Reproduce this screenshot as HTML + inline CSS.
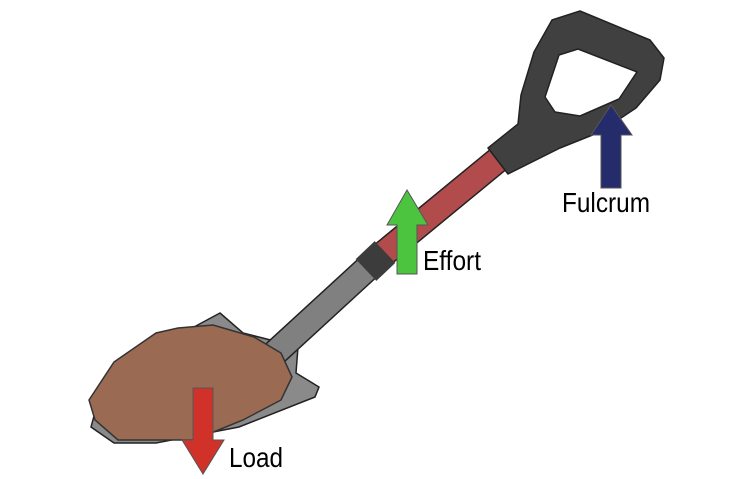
<!DOCTYPE html>
<html><head><style>
html,body{margin:0;padding:0;background:#fff;}
svg{display:block;}
text{font-family:"Liberation Sans",sans-serif;font-size:28px;fill:#000;}
</style></head><body>
<svg width="750" height="479" viewBox="0 0 750 479" xmlns="http://www.w3.org/2000/svg">
<!-- blade -->
<path d="M220,313 L243,333 L298,347 L296,373 L319,387 L315,397 L239,427 L156,443 L114,443 L91,427 L103,383 L125,360 L194,327 Z" fill="#8a8a8a" stroke="#222" stroke-width="1.5"/>
<!-- gray shaft -->
<line x1="374" y1="262" x2="276" y2="352" stroke="#222" stroke-width="27" stroke-linecap="round"/>
<line x1="374" y1="262" x2="276" y2="352" stroke="#808080" stroke-width="24" stroke-linecap="round"/>
<!-- red shaft -->
<line x1="500" y1="158" x2="376" y2="260" stroke="#222" stroke-width="27"/>
<line x1="500" y1="158" x2="376" y2="260" stroke="#b24b4b" stroke-width="24"/>
<!-- dark collar -->
<line x1="385" y1="252" x2="366" y2="270" stroke="#3c3c3c" stroke-width="30"/>
<!-- grip -->
<path d="M508,174 L488,148 L518,124 L521,95 L534,52 L552,20 L580,11 L650,40 L664,58 L660,80 L636,108 L600,132 L560,148 Z" fill="#404040" stroke="#222" stroke-width="1.5" stroke-linejoin="round"/>
<path d="M578,49 L637,72 L619,99 L580,116 L555,112 L545,97 L559,55 Z" fill="#fff" stroke="#222" stroke-width="1.5" stroke-linejoin="round"/>
<!-- dirt -->
<path d="M89,400 L114,362 L156,333 L178,328 L213,325 L254,337 L281,353 L292,377 L281,400 L243,420 L194,440 L118,440 L95,420 Z" fill="#9b6a52" stroke="#333" stroke-width="1.5"/>
<!-- load arrow -->
<path d="M193,388 H213 V440 H224 L203,474 L182,440 H193 Z" fill="#d0322a" stroke="#555" stroke-width="1"/>
<!-- effort arrow -->
<path d="M397,274 H417 V225 H428 L407,190 L387,225 H397 Z" fill="#4cc43f" stroke="#555" stroke-width="1"/>
<!-- fulcrum arrow -->
<path d="M601,188 H621 V135 H632 L611,105 L591,135 H601 Z" fill="#252c6b" stroke="#555" stroke-width="1"/>
<text x="423" y="270" textLength="58" lengthAdjust="spacingAndGlyphs">Effort</text>
<text x="562" y="212" textLength="88" lengthAdjust="spacingAndGlyphs">Fulcrum</text>
<text x="229" y="467" textLength="54" lengthAdjust="spacingAndGlyphs">Load</text>
</svg>
</body></html>
